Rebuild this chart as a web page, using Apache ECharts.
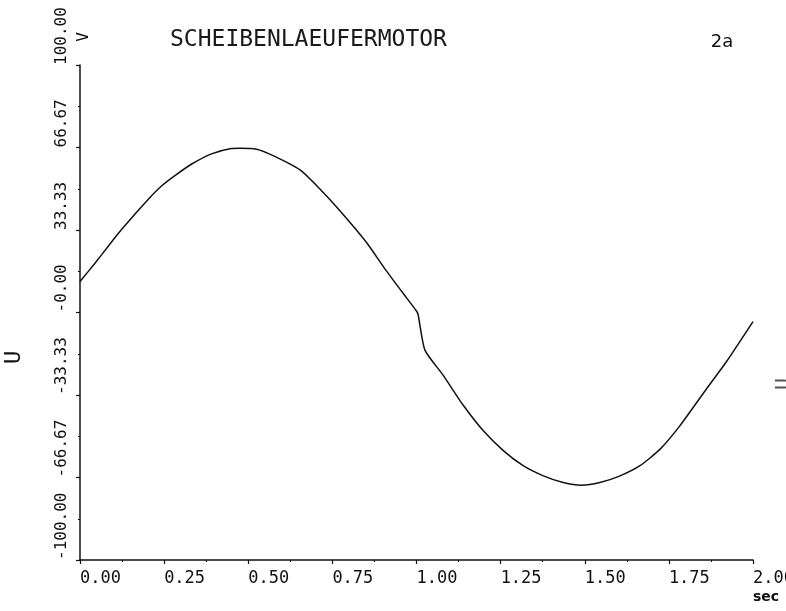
<!DOCTYPE html>
<html>
<head>
<meta charset="utf-8">
<script src="https://cdn.jsdelivr.net/npm/echarts@6/dist/echarts.min.js"></script>
<style>
html,body{margin:0;padding:0;background:#fff;}
#chart{width:786px;height:611px;}
</style>
</head>
<body>
<div id="chart"></div>
<script>
// Data
const timeSec = [0.0, 0.045, 0.084, 0.124, 0.163, 0.203, 0.243, 0.282, 0.332, 0.391, 0.45, 0.475, 0.525, 0.574, 0.654, 0.713, 0.773, 0.852, 0.911, 0.971, 1.0, 1.005, 1.025, 1.079, 1.139, 1.198, 1.258, 1.317, 1.377, 1.436, 1.49, 1.545, 1.605, 1.664, 1.724, 1.783, 1.862, 1.921, 2.0];
const voltage = [12.5, 20.0, 26.8, 33.6, 39.7, 45.8, 51.2, 55.3, 60.0, 64.1, 66.3, 66.4, 66.0, 63.4, 57.6, 49.9, 41.0, 28.2, 16.7, 5.8, 0.6, -1.0, -15.2, -25.3, -37.5, -47.7, -55.8, -61.9, -66.0, -68.7, -69.8, -68.7, -66.0, -61.9, -55.2, -45.7, -30.8, -19.9, -3.7];
const titleText = 'SCHEIBENLAEUFERMOTOR';
const panelLabel = '2a';
const yName = 'U';
const yUnit = 'V';
const xUnit = 'sec';

const points = timeSec.map((t, i) => [t, voltage[i]]);
const mono = 'DejaVu Sans Mono';

const chart = echarts.init(document.getElementById('chart'), null, {renderer: 'canvas'});
chart.setOption({
  animation: false,
  backgroundColor: '#fff',
  title: {
    text: titleText,
    left: 165,
    top: 24,
    textStyle: {fontFamily: mono, fontSize: 23, fontWeight: 'normal', color: '#1a1a1a'}
  },
  grid: {left: 80, right: 33, top: 65, bottom: 51, containLabel: false, outerBoundsMode: 'none'},
  xAxis: {
    type: 'value',
    min: 0, max: 2, interval: 0.25,
    axisLine: {show: true, onZero: false, lineStyle: {color: '#111', width: 1.5}},
    axisTick: {show: true, length: 4, lineStyle: {color: '#111', width: 1.2}},
    minorTick: {show: true, splitNumber: 2, length: 2, lineStyle: {color: '#111'}},
    splitLine: {show: false},
    axisLabel: {
      align: 'left', margin: 10,
      fontFamily: mono, fontSize: 17, color: '#111',
      showMaxLabel: true, hideOverlap: false,
      formatter: v => v.toFixed(2)
    }
  },
  yAxis: {
    type: 'value',
    min: -100, max: 100, interval: 100 / 3,
    name: yName,
    nameLocation: 'middle',
    nameRotate: 90,
    nameGap: 55,
    nameTextStyle: {fontFamily: mono, fontSize: 22, color: '#111', padding: [0, 90, 0, 0]},
    axisLine: {show: true, onZero: false, lineStyle: {color: '#111', width: 1.5}},
    axisTick: {show: true, length: 4, lineStyle: {color: '#111', width: 1.2}},
    minorTick: {show: true, splitNumber: 2, length: 2, lineStyle: {color: '#111'}},
    splitLine: {show: false},
    axisLabel: {
      rotate: 90, align: 'left', verticalAlign: 'bottom', margin: 10,
      fontFamily: mono, fontSize: 16, color: '#111',
      showMinLabel: true, showMaxLabel: true, hideOverlap: false,
      formatter: v => (Math.abs(v) < 1e-6 ? '-0.00' : v.toFixed(2))
    }
  },
  graphic: [
    {type: 'text', x: 84, y: 37, rotation: Math.PI / 2,
     style: {text: yUnit, fontFamily: mono, fontSize: 16, fill: '#111', align: 'center', verticalAlign: 'middle'}},
    {type: 'text', x: 722, y: 42,
     style: {text: panelLabel, fontFamily: 'DejaVu Sans', fontSize: 18, fill: '#111', align: 'center', verticalAlign: 'middle'}},
    {type: 'text', x: 766, y: 597,
     style: {text: xUnit, fontFamily: 'DejaVu Sans', fontSize: 14, fontWeight: 'bold', fill: '#111', align: 'center', verticalAlign: 'middle'}},
    {type: 'text', x: 784, y: 384, rotation: Math.PI / 2,
     style: {text: yName, fontFamily: mono, fontSize: 20, fill: '#555', align: 'center', verticalAlign: 'middle'}}
  ],
  series: [{
    type: 'line',
    data: points,
    showSymbol: false,
    smooth: 0.2,
    lineStyle: {color: '#111', width: 1.5},
    clip: false
  }]
});
</script>
</body>
</html>
